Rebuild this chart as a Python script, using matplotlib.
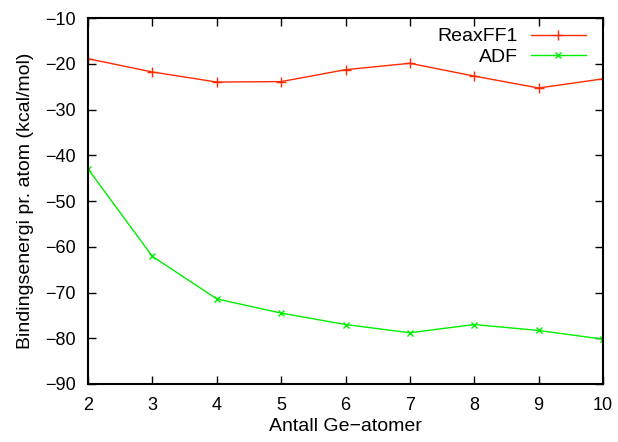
import matplotlib
matplotlib.use('Agg')
import matplotlib.pyplot as plt

plt.rcParams['font.family'] = ['Liberation Sans', 'DejaVu Sans']
plt.rcParams['font.size'] = 13

atoms = [2, 3, 4, 5, 6, 7, 8, 9, 10]
reaxff1 = [-18.9, -21.8, -24.0, -23.9, -21.3, -19.9, -22.7, -25.3, -23.3]
adf = [-43.0, -62.1, -71.4, -74.5, -77.0, -78.8, -77.0, -78.3, -80.2]

fig = plt.figure(figsize=(6.18, 4.42), dpi=100)
ax = fig.add_axes([88/618, 1 - 384/442, (603 - 88)/618, (384 - 18)/442])

ax.plot(atoms, reaxff1, color='#ff2a00', marker='+', markersize=7, lw=1, mew=1, label='ReaxFF1')
ax.plot(atoms, adf, color='#00ee00', marker='x', markersize=5, lw=1, mew=1, label='ADF')

ax.set_xlim(2, 10)
ax.set_ylim(-90, -10)
ax.set_xticks(atoms)
ax.set_yticks(range(-90, 0, 10))
ax.tick_params(direction='in', top=True, right=True, length=6, width=1, pad=9)
for s in ax.spines.values():
    s.set_linewidth(1.5)

ax.set_xlabel('Antall Ge\u2212atomer', labelpad=3, fontsize=14)
ax.set_ylabel('Bindingsenergi pr. atom (kcal/mol)', labelpad=8, fontsize=14)

ax.legend(loc='upper right', frameon=False, markerfirst=False, handlelength=2.8,
          borderaxespad=0.1, labelspacing=0.15, handletextpad=0.7, fontsize=14,
          bbox_to_anchor=(0.985, 1.0))

fig.savefig('out.png', dpi=100)
